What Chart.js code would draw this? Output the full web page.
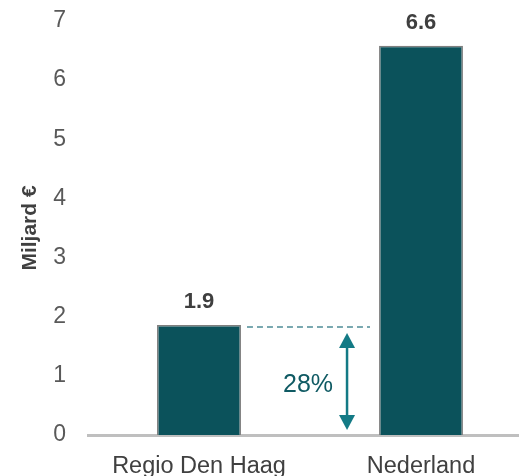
<!DOCTYPE html>
<html>
<head>
<meta charset="utf-8">
<script src="https://cdn.jsdelivr.net/npm/chart.js@4"></script>
<style>
html, body { margin: 0; padding: 0; overflow: hidden; background: #fff; }
#mycanvas { display: block; }
</style>
</head>
<body>
<canvas id="mycanvas" width="532" height="476"></canvas>
<script>
// data
var regions = ["Regio Den Haag", "Nederland"];
var miljard = [1.86, 6.58];
var yTicks = [0, 1, 2, 3, 4, 5, 6, 7];
var shareText = "28%";

var FONT = '"Liberation Sans", Arial, sans-serif';

// value labels, dashed guide and the double arrow
var annot = {
	id: 'annot',
	afterDatasetsDraw: function(chart) {
		var ctx = chart.ctx;
		var meta = chart.getDatasetMeta(0);
		var yScale = chart.scales.y;
		ctx.save();

		ctx.font = 'bold 22px ' + FONT;
		ctx.fillStyle = '#3f3f3f';
		ctx.textAlign = 'center';
		ctx.textBaseline = 'alphabetic';
		meta.data.forEach(function(bar, i) {
			ctx.fillText(miljard[i].toFixed(1), bar.x, bar.y - 17);
		});

		var b1 = meta.data[0], b2 = meta.data[1];
		var yTop = b1.y + 2;
		var xa = b1.x + b1.width / 2 + 6;
		var xb = b2.x - b2.width / 2 - 9;

		ctx.strokeStyle = '#4d8c96';
		ctx.lineWidth = 1.5;
		ctx.setLineDash([6, 4]);
		ctx.beginPath();
		ctx.moveTo(xa, yTop);
		ctx.lineTo(xb, yTop);
		ctx.stroke();
		ctx.setLineDash([]);

		var ax = b2.x - b2.width / 2 - 32;
		var t = yTop + 6;
		var bt = yScale.getPixelForValue(0) - 5;
		var hh = 15, hw = 8;
		ctx.strokeStyle = '#137a85';
		ctx.fillStyle = '#137a85';
		ctx.lineWidth = 2.5;
		ctx.beginPath();
		ctx.moveTo(ax, t + hh - 1);
		ctx.lineTo(ax, bt - hh + 1);
		ctx.stroke();
		ctx.beginPath();
		ctx.moveTo(ax, t);
		ctx.lineTo(ax - hw, t + hh);
		ctx.lineTo(ax + hw, t + hh);
		ctx.closePath();
		ctx.fill();
		ctx.beginPath();
		ctx.moveTo(ax, bt);
		ctx.lineTo(ax - hw, bt - hh);
		ctx.lineTo(ax + hw, bt - hh);
		ctx.closePath();
		ctx.fill();

		ctx.font = '25px ' + FONT;
		ctx.fillStyle = '#0f5a63';
		ctx.textAlign = 'right';
		ctx.fillText(shareText, ax - 14, (t + bt) / 2 + 10.5);

		ctx.restore();
	}
};

var ctx = document.getElementById('mycanvas');

var chart = new Chart(ctx, {
	type: 'bar',
	data: {
		labels: regions,
		datasets: [
			{
				data: miljard,
				backgroundColor: '#0b525b',
				borderColor: '#7f7f7f',
				borderWidth: 1.5,
				borderSkipped: 'bottom',
				barPercentage: 0.378,
				categoryPercentage: 1
			}
		]
	},
	options: {
		responsive: false,
		animation: false,
		layout: { padding: { top: 21, right: 0, bottom: 0, left: 0 } },
		plugins: {
			legend: { display: false },
			tooltip: { enabled: false }
		},
		scales: {
			x: {
				grid: { display: false, drawTicks: false },
				border: { display: true, color: '#bfbfbf', width: 3 },
				ticks: {
					font: { family: FONT, size: 23.5 },
					color: '#404040',
					padding: 17
				},
				afterFit: function(s) { s.height = 41; s.paddingLeft = 0; s.paddingRight = 0; }
			},
			y: {
				min: yTicks[0],
				max: yTicks[yTicks.length - 1],
				grid: { display: false, drawTicks: false },
				border: { display: false },
				ticks: {
					stepSize: 1,
					font: { family: FONT, size: 23 },
					color: '#595959',
					padding: 22
				},
				title: {
					display: true,
					text: 'Miljard €',
					font: { family: FONT, size: 21, weight: 'bold' },
					color: '#404040',
					padding: { top: 18, bottom: 0 }
				},
				afterFit: function(s) { s.width = 88; s.paddingTop = 0; s.paddingBottom = 0; }
			}
		}
	},
	plugins: [annot]
});
</script>
</body>
</html>
